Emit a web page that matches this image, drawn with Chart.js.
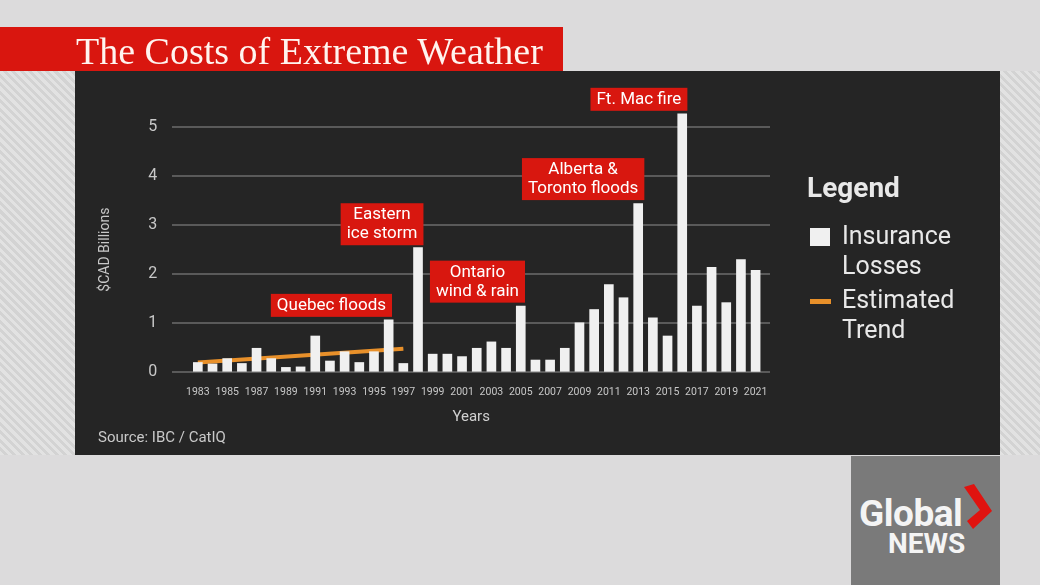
<!DOCTYPE html>
<html>
<head>
<meta charset="utf-8">
<script src="https://cdn.jsdelivr.net/npm/chart.js@4"></script>
<style>
  html, body { margin: 0; padding: 0; }
  body {
    width: 1040px; height: 585px; position: relative; overflow: hidden;
    background: #dcdbdc; font-family: Roboto, sans-serif;
  }
  .hatch {
    position: absolute; top: 71px; height: 384px;
    background: repeating-linear-gradient(45deg, #e2e2e2 0 3px, #d3d3d3 3px 6px);
  }
  #titlebar {
    position: absolute; left: 0; top: 27px; width: 563px; height: 44px;
    background: #d9160f;
  }
  #titlebar span {
    position: absolute; left: 76px; top: 2px;
    font-family: "Liberation Serif", serif; font-size: 38px; color: #fff4ef;
    white-space: nowrap;
  }
  #panel {
    position: absolute; left: 75px; top: 71px; width: 925px; height: 384px;
    background: #252525;
  }
  #chartBox { position: absolute; left: 0; top: 0; width: 925px; height: 384px; }
  #source {
    position: absolute; left: 23px; top: 357px; font-size: 15px; color: #c9c9c9;
  }
  #legend { position: absolute; left: 732px; top: 100px; color: #e8e8e8; }
  #legend .ttl { font-weight: bold; font-size: 28px; line-height: 34px; margin-left: 0; }
  #legend .item { position: relative; font-size: 25px; line-height: 30px; padding-left: 35px; }
  #legend .sw { position: absolute; left: 3px; }
  #logo {
    position: absolute; left: 851px; top: 456px; width: 149px; height: 129px;
    background: #7a7a7a;
  }
  #logo .g { position: absolute; left: 8px; top: 36px; font-size: 37px; font-weight: bold; color: #f4f4f4; letter-spacing: -0.5px; }
  #logo .n { position: absolute; left: 37px; top: 71px; font-size: 28px; font-weight: bold; color: #f4f4f4; }
  #logo svg { position: absolute; left: 0; top: 0; }
</style>
</head>
<body>
<div class="hatch" style="left:0;width:75px"></div>
<div class="hatch" style="left:1000px;width:40px"></div>
<div id="panel">
  <div id="chartBox"><canvas id="grafico" width="925" height="384"></canvas></div>
  <div id="source">Source: IBC / CatIQ</div>
  <div id="legend"></div>
</div>
<div id="titlebar"><span>The Costs of Extreme Weather</span></div>
<div id="logo">
  <div class="g">Global</div>
  <div class="n">NEWS</div>
  <svg width="149" height="129">
    <polygon points="113,31 123,28 141,55 122,73 116,65 129,54" fill="#e0130f"/>
  </svg>
</div>

<script>
const years = [1983, 1984, 1985, 1986, 1987, 1988, 1989, 1990, 1991, 1992,
  1993, 1994, 1995, 1996, 1997, 1998, 1999, 2000, 2001, 2002,
  2003, 2004, 2005, 2006, 2007, 2008, 2009, 2010, 2011, 2012,
  2013, 2014, 2015, 2016, 2017, 2018, 2019, 2020, 2021];
const losses = [0.20, 0.17, 0.28, 0.18, 0.49, 0.28, 0.10, 0.11, 0.74, 0.23,
  0.42, 0.20, 0.42, 1.07, 0.18, 2.54, 0.37, 0.37, 0.32, 0.49,
  0.62, 0.49, 1.35, 0.25, 0.25, 0.49, 1.01, 1.28, 1.79, 1.52,
  3.44, 1.11, 0.74, 5.27, 1.35, 2.14, 1.42, 2.30, 2.08];
const trendYears = [1983, 1997];
const trendValues = [0.20, 0.48];
const xTicks = [1983, 1985, 1987, 1989, 1991, 1993, 1995, 1997, 1999, 2001,
  2003, 2005, 2007, 2009, 2011, 2013, 2015, 2017, 2019, 2021];
const yTicks = [0, 1, 2, 3, 4, 5];

// event labels: text lines, year under the box centre, value at the box bottom
const eventos = [
  { lines: ['Quebec floods'], year: 1992.1, value: 1.13 },
  { lines: ['Eastern', 'ice storm'], year: 1995.55, value: 2.59 },
  { lines: ['Ontario', 'wind & rain'], year: 2002.05, value: 1.42 },
  { lines: ['Alberta &', 'Toronto floods'], year: 2009.25, value: 3.51 },
  { lines: ['Ft. Mac fire'], year: 2013.05, value: 5.33 }
];

const colorBarra = '#f0f0f0';
const colorTendencia = '#e8902a';

const etiquetasEventos = {
  id: 'etiquetasEventos',
  afterDatasetsDraw(chart) {
    const { ctx, scales: { x, y } } = chart;
    ctx.save();
    ctx.font = '17px Roboto';
    ctx.textAlign = 'center';
    ctx.textBaseline = 'middle';
    eventos.forEach(ev => {
      const w = Math.max(...ev.lines.map(t => ctx.measureText(t).width)) + 12;
      const h = ev.lines.length * 19 + 4;
      const cx = x.getPixelForValue(ev.year);
      const bottom = y.getPixelForValue(ev.value);
      ctx.fillStyle = '#d8170f';
      ctx.fillRect(cx - w / 2, bottom - h, w, h);
      ctx.fillStyle = '#ffffff';
      ev.lines.forEach((t, i) => ctx.fillText(t, cx, bottom - h + 2 + 10 + i * 19));
    });
    ctx.restore();
  }
};

const ctx = document.getElementById('grafico').getContext('2d');
const grafico = new Chart(ctx, {
  type: 'bar',
  data: {
    datasets: [{
      type: 'bar',
      label: 'Insurance Losses',
      data: years.map((yr, i) => ({ x: yr, y: losses[i] })),
      backgroundColor: colorBarra,
      barThickness: 9,
      clip: false,
      order: 1
    }, {
      type: 'line',
      label: 'Estimated Trend',
      data: trendYears.map((yr, i) => ({ x: yr, y: trendValues[i] })),
      borderColor: colorTendencia,
      backgroundColor: colorTendencia,
      borderWidth: 4,
      pointRadius: 0,
      order: 2
    }]
  },
  plugins: [etiquetasEventos],
  options: {
    responsive: false,
    animation: false,
    devicePixelRatio: 1,
    layout: { padding: { top: 56, right: 230, left: 0, bottom: 0 } },
    plugins: {
      legend: { display: false },
      tooltip: { enabled: false }
    },
    scales: {
      x: {
        type: 'linear',
        offset: false,
        min: 1981.26,
        max: 2021.98,
        afterBuildTicks: s => { s.ticks = xTicks.map(v => ({ value: v })); },
        afterFit: s => { s.height = 82.7; },
        grid: { display: false, offset: false },
        border: { display: false },
        ticks: {
          color: '#c8c8c8',
          font: { family: 'Roboto', size: 10.5 },
          padding: 6,
          maxRotation: 0,
          autoSkip: false,
          callback: v => String(v)
        },
        title: {
          display: true,
          text: 'Years',
          color: '#d0d0d0',
          font: { family: 'Roboto', size: 15 },
          padding: { top: 0, bottom: 29 }
        }
      },
      y: {
        min: 0,
        max: 5,
        afterBuildTicks: s => { s.ticks = yTicks.map(v => ({ value: v })); },
        afterFit: s => { s.width = 97.3; },
        grid: { color: '#5a5a5a', lineWidth: 2, drawTicks: false },
        border: { display: false },
        ticks: {
          color: '#c8c8c8',
          font: { family: 'Roboto', size: 16 },
          padding: 15
        },
        title: {
          display: true,
          text: '$CAD Billions',
          color: '#c8c8c8',
          font: { family: 'Roboto', size: 14 },
          padding: { top: 21.6, bottom: 0 }
        }
      }
    }
  }
});

// legend built from the chart's datasets
const legendNames = [['Insurance', 'Losses'], ['Estimated', 'Trend']];
const leg = document.getElementById('legend');
leg.innerHTML = '<div class="ttl">Legend</div>';
grafico.data.datasets.forEach((ds, i) => {
  const it = document.createElement('div');
  it.className = 'item';
  const sw = ds.type === 'bar'
    ? `<span class="sw" style="top:7px;width:20px;height:18px;background:${ds.backgroundColor}"></span>`
    : `<span class="sw" style="top:14px;width:21px;height:5px;background:${ds.borderColor}"></span>`;
  it.innerHTML = sw + legendNames[i].join('<br>');
  it.style.marginTop = i === 0 ? '16px' : '4px';
  leg.appendChild(it);
});
</script>
</body>
</html>
